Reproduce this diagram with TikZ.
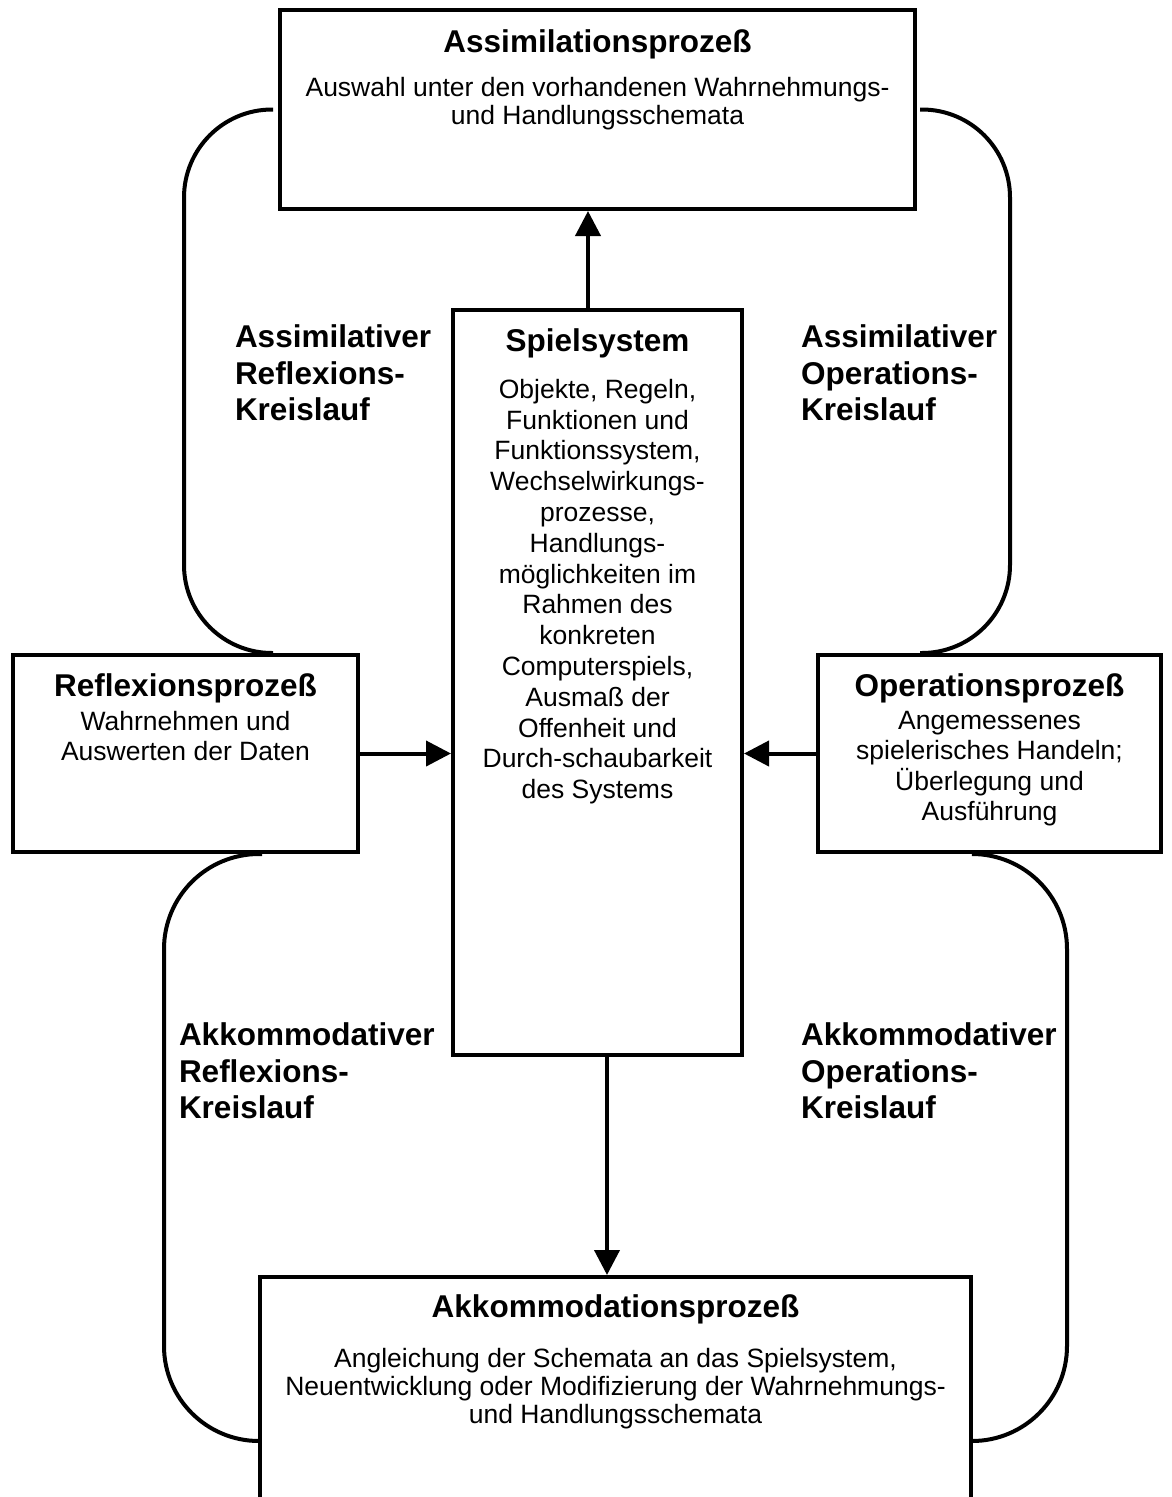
\documentclass[tikz,border=0pt]{standalone}
\usepackage{fontspec}
\setmainfont{Liberation Sans}
\usetikzlibrary{arrows.meta}

\begin{document}
\begin{tikzpicture}[x=1pt, y=-1pt, line width=4pt,
    procbox/.style = {draw, rectangle, inner sep=0pt},
    headtext/.style = {font=\fontsize{31.5}{36.5}\selectfont\bfseries, align=center, inner sep=0pt, anchor=north},
    bodytext/.style = {font=\fontsize{26.5}{30.8}\selectfont, align=center, inner sep=0pt, anchor=north},
    cyclelabel/.style = {font=\fontsize{31.5}{36.5}\selectfont\bfseries, align=left, inner sep=0pt, anchor=north west},
    flowarrow/.style = {-{Triangle[length=25pt, width=25pt]}},
    cycleline/.style = {rounded corners=88pt}]
    \useasboundingbox (0,0) rectangle (1172,1497);
    \clip (0,0) rectangle (1172,1497);

    % Nodes
    \node[procbox, minimum width=635, minimum height=199] (assim) at (597.5, 109.5) {};
    \node[procbox, minimum width=289, minimum height=745] (spiel) at (597.5, 682.5) {};
    \node[procbox, minimum width=345, minimum height=197] (refl) at (185.5, 753.5) {};
    \node[procbox, minimum width=343, minimum height=197] (oper) at (989.5, 753.5) {};
    \node[procbox, minimum width=711, minimum height=253] (akkom) at (615.5, 1403.5) {};

    \node[headtext] (assimhead) at (597.5, 28) {Assimilationsprozeß};
    \node[bodytext, font=\fontsize{26.5}{28}\selectfont] (assimbody) at (597.5, 75) {Auswahl unter den vorhandenen Wahrnehmungs-\\und Handlungsschemata};

    \node[headtext] (spielhead) at (597.5, 327) {Spielsystem};
    \node[bodytext] (spielbody) at (597.5, 377) {Objekte, Regeln,\\Funktionen und\\Funktionssystem,\\Wechselwirkungs-\\prozesse,\\Handlungs-\\möglichkeiten im\\Rahmen des\\konkreten\\Computerspiels,\\Ausmaß der\\Offenheit und\\Durch-schaubarkeit\\des Systems};

    \node[headtext] (reflhead) at (185.5, 672) {Reflexionsprozeß};
    \node[bodytext, font=\fontsize{26.5}{30.5}\selectfont] (reflbody) at (185.5, 709) {Wahrnehmen und\\Auswerten der Daten};

    \node[headtext] (operhead) at (989.5, 672) {Operationsprozeß};
    \node[bodytext, font=\fontsize{26.5}{30.5}\selectfont] (operbody) at (989.5, 709) {Angemessenes\\spielerisches Handeln;\\Überlegung und\\Ausführung};

    \node[headtext] (akkomhead) at (615.5, 1293) {Akkommodationsprozeß};
    \node[bodytext, font=\fontsize{26.5}{28}\selectfont] (akkombody) at (615.5, 1346) {Angleichung der Schemata an das Spielsystem,\\Neuentwicklung oder Modifizierung der Wahrnehmungs-\\und Handlungsschemata};

    \node[cyclelabel] (asreflabel) at (233, 323) {Assimilativer\\Reflexions-\\Kreislauf};
    \node[cyclelabel] (asoplabel) at (799, 323) {Assimilativer\\Operations-\\Kreislauf};
    \node[cyclelabel] (akreflabel) at (177, 1021) {Akkommodativer\\Reflexions-\\Kreislauf};
    \node[cyclelabel] (akoplabel) at (799, 1021) {Akkommodativer\\Operations-\\Kreislauf};

    \coordinate (lefttop) at (184, 0);
    \coordinate (righttop) at (1010, 0);
    \coordinate (leftbot) at (164, 0);
    \coordinate (rightbot) at (1067, 0);
    \coordinate (akkomL) at ([yshift=-37.5pt]akkom.west);
    \coordinate (akkomR) at ([yshift=-37.5pt]akkom.east);

    % Edges
    \draw[flowarrow] ([xshift=-9.5pt]spiel.north) -- ([xshift=-9.5pt]assim.south);
    \draw[flowarrow] ([xshift=9.5pt]spiel.south) -- ([xshift=9.5pt]spiel.south |- akkom.north);
    \draw[flowarrow] (refl.east) -- (spiel.west |- refl.east);
    \draw[flowarrow] (oper.west) -- (spiel.east |- oper.west);

    % Kreislaeufe
    \draw[cycleline] ([xshift=-5pt]assim.west) -| (lefttop |- refl.north) -- ([xshift=87.5pt]refl.north);
    \draw[cycleline] ([xshift=3pt]assim.east) -| (righttop |- oper.north) -- ([xshift=-69.5pt]oper.north);
    \draw[cycleline, rounded corners=95pt] ([xshift=76.5pt]refl.south) -| (leftbot |- akkomL) -- (akkomL);
    \draw[cycleline, rounded corners=95pt] ([xshift=-14.5pt]oper.south) -| (rightbot |- akkomR) -- (akkomR);

\end{tikzpicture}
\end{document}
